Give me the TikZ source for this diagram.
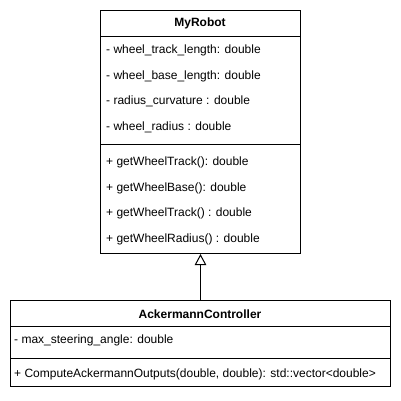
\documentclass[tikz,border=0pt]{standalone}
\usepackage{fontspec}
\setmainfont{Liberation Sans}
\usetikzlibrary{arrows.meta}
\begin{document}
\begin{tikzpicture}[x=1pt,y=-1pt,
  box/.style={draw, line width=1pt, inner sep=0pt, anchor=north west},
  sep/.style={line width=1pt},
  member/.style={anchor=west, inner sep=0pt, font=\fontsize{12}{14}\selectfont},
  title/.style={inner sep=0pt, font=\fontsize{12}{14}\selectfont\bfseries},
  inherit/.style={line width=1pt, -{Triangle[open, length=11pt, width=11.5pt, line width=1pt]}}
]
\useasboundingbox (0,0) rectangle (401,400);
\fill[white] (0,0) rectangle (401,400);
% MyRobot
\node[box, minimum width=200pt, minimum height=243pt] (robot) at (100,10) {};
\node[title] (rtitle) at (200,23) {MyRobot};
\draw[sep] (100,36) -- (300,36);
\node[member] (a1) at (106,50.7) {- wheel\_track\_length: double};
\node[member] (a2) at (106,76) {- wheel\_base\_length: double};
\node[member] (a3) at (106,101.5) {- radius\_curvature : double};
\node[member] (a4) at (106,127) {- wheel\_radius : double};
\draw[sep] (100,144) -- (300,144);
\node[member] (m1) at (106,162.7) {+ getWheelTrack(): double};
\node[member] (m2) at (106,188.3) {+ getWheelBase(): double};
\node[member] (m3) at (106,213.5) {+ getWheelTrack() : double};
\node[member] (m4) at (106,239.3) {+ getWheelRadius() : double};
% AckermannController
\node[box, minimum width=380pt, minimum height=86pt] (ctrl) at (10,300) {};
\node[title] (ctitle) at (200,314) {AckermannController};
\draw[sep] (10,326) -- (390,326);
\node[member] (b1) at (14,340.7) {- max\_steering\_angle: double};
\draw[sep] (10,358) -- (390,358);
\node[member] (b2) at (14,374) {+ ComputeAckermannOutputs(double, double): std::vector<double>};
% inheritance
\draw[inherit] (ctrl.north) -- (robot.south);
\end{tikzpicture}
\end{document}
